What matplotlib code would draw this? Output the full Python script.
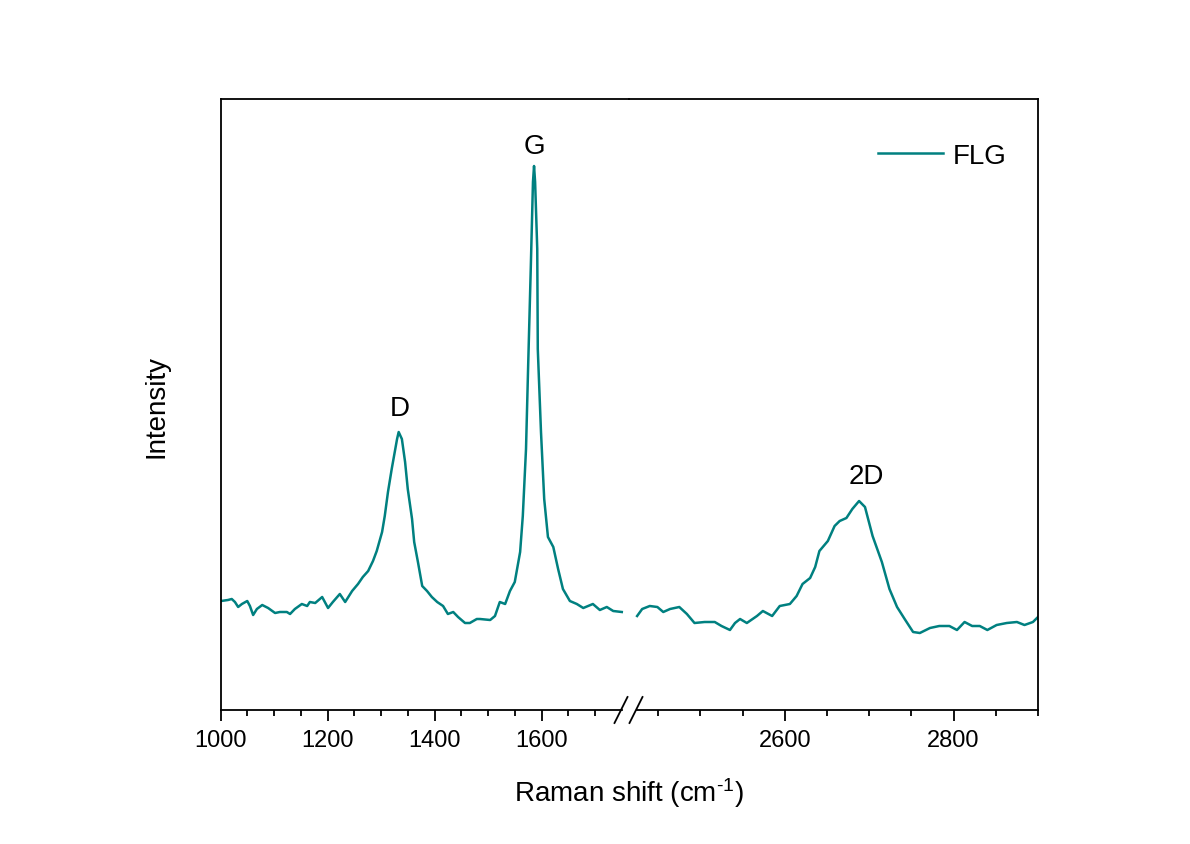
import matplotlib
matplotlib.use("Agg")
import matplotlib.pyplot as plt
from matplotlib.lines import Line2D
from matplotlib.ticker import FixedLocator

plt.rcParams['font.family'] = ['Liberation Sans', 'DejaVu Sans']
plt.rcParams['mathtext.fontset'] = 'custom'
plt.rcParams['mathtext.rm'] = 'Liberation Sans'
plt.rcParams['mathtext.it'] = 'Liberation Sans'

# Raman spectrum of FLG (cm^-1, arbitrary intensity)
shift_low = [1001, 1014, 1021, 1027, 1033, 1040, 1050, 1055, 1061, 1068,
             1078, 1089, 1102, 1111, 1124, 1130, 1139, 1152, 1162, 1167,
             1177, 1190, 1195, 1201, 1210, 1223, 1233, 1246, 1257, 1266,
             1276, 1285, 1292, 1302, 1307, 1313, 1320, 1326, 1330, 1333,
             1339, 1345, 1350, 1358, 1362, 1369, 1377, 1386, 1395, 1405,
             1416, 1425, 1435, 1444, 1457, 1466, 1479, 1485, 1504, 1513,
             1522, 1532, 1541, 1550, 1560, 1565, 1571, 1575, 1580, 1584,
             1586, 1588, 1592, 1593, 1599, 1605, 1612, 1622, 1631, 1640,
             1653, 1666, 1678, 1696, 1709, 1722, 1734, 1750]
int_low = [109, 110, 111, 108, 103, 106, 109, 104, 95, 101,
           105, 102, 97, 98, 98, 96, 101, 106, 104, 108,
           107, 113, 108, 102, 108, 116, 108, 119, 126, 133,
           139, 149, 159, 178, 194, 218, 241, 259, 271, 278,
           271, 248, 221, 191, 168, 148, 124, 119, 113, 108,
           104, 96, 98, 93, 87, 87, 91, 91, 90, 94,
           108, 106, 119, 128, 158, 194, 261, 344, 444, 528,
           544, 528, 461, 361, 278, 211, 173, 163, 141, 121,
           109, 106, 102, 106, 100, 103, 99, 98]

shift_high = [2425, 2431, 2440, 2449, 2456, 2464, 2475, 2484, 2493, 2505,
              2517, 2525, 2535, 2541, 2547, 2555, 2567, 2574, 2585, 2594,
              2606, 2614, 2621, 2630, 2636, 2641, 2651, 2659, 2665, 2673,
              2680, 2688, 2695, 2704, 2715, 2724, 2733, 2742, 2752, 2760,
              2772, 2783, 2795, 2804, 2813, 2822, 2831, 2840, 2851, 2863,
              2875, 2884, 2894, 2900]
int_high = [94, 101, 104, 103, 98, 101, 103, 96, 87, 88,
            88, 84, 80, 87, 91, 87, 94, 99, 94, 104,
            106, 114, 126, 132, 143, 159, 169, 184, 189, 192,
            201, 209, 203, 174, 148, 121, 103, 91, 78, 77,
            82, 84, 84, 80, 88, 84, 84, 80, 85, 87,
            88, 85, 88, 93]

peak_labels = ['D', 'G', '2D']
peak_pos = [1335, 1586, 2697]
peak_text_y = [302, 564, 234]

color = '#008080'
W, H = 1190, 845
fig = plt.figure(figsize=(W / 100, H / 100), dpi=100)

bot = (H - 711) / H
top = (H - 100) / H
split = 628.5
ax1 = fig.add_axes([220.5 / W, bot, (split - 220.5) / W, top - bot])
ax2 = fig.add_axes([split / W, bot, (1038 - split) / W, top - bot])

ax1.plot(shift_low, int_low, color=color, lw=1.8)
ax2.plot(shift_high, int_high, color=color, lw=1.8, label='FLG')

ax1.set_xlim(1000, 1000 + (split - 220.5) * 1.869)
ax2.set_xlim(2600 - (785 - split) * 1.1834, 2900)
for ax in (ax1, ax2):
    ax.set_ylim(0, 611)
    ax.set_yticks([])
    for s in ax.spines.values():
        s.set_linewidth(1.3)
    ax.tick_params(axis='x', direction='out', which='major', length=8, width=1.3,
                   labelsize=17, pad=6)
    ax.tick_params(axis='x', which='minor', direction='out', length=4.5, width=1.3)
    ax.patch.set_alpha(0)

ax1.spines['right'].set_visible(False)
ax2.spines['left'].set_visible(False)
ax1.spines['bottom'].set_bounds(1000, 1750)
ax2.spines['bottom'].set_bounds(2425, 2900)

ax1.xaxis.set_major_locator(FixedLocator([1000, 1200, 1400, 1600]))
ax1.xaxis.set_minor_locator(FixedLocator([1050, 1100, 1150, 1250, 1300, 1350,
                                          1450, 1500, 1550, 1650, 1700]))
ax2.xaxis.set_major_locator(FixedLocator([2600, 2800]))
ax2.xaxis.set_minor_locator(FixedLocator([2450, 2500, 2550, 2650, 2700, 2750,
                                          2850, 2900]))

# break marks on the bottom axis
for cx in (621, 636):
    fig.add_artist(Line2D([(cx - 6.5) / W, (cx + 6.5) / W],
                          [(H - 724) / H, (H - 698) / H],
                          color='black', lw=1.3))

for lab, px, py in zip(peak_labels, peak_pos, peak_text_y):
    ax = ax1 if px < 2000 else ax2
    ax.text(px, py, lab, ha='center', va='center', fontsize=20)

fig.legend(handles=ax2.get_lines(), labels=['FLG'], loc='center left',
           bbox_to_anchor=(878 / W, 1 - 157 / H), frameon=False, fontsize=20,
           handlelength=2.35, handletextpad=0.35, borderpad=0, borderaxespad=0)

fig.text(629 / W, 1 - 793 / H, r'Raman shift (cm$^{\text{-}1}$)', ha='center',
         va='center', fontsize=20)
fig.text(157 / W, 1 - 407 / H, 'Intensity', ha='center', va='center',
         rotation=90, fontsize=20)

fig.savefig('out.png', dpi=100, facecolor='white')
